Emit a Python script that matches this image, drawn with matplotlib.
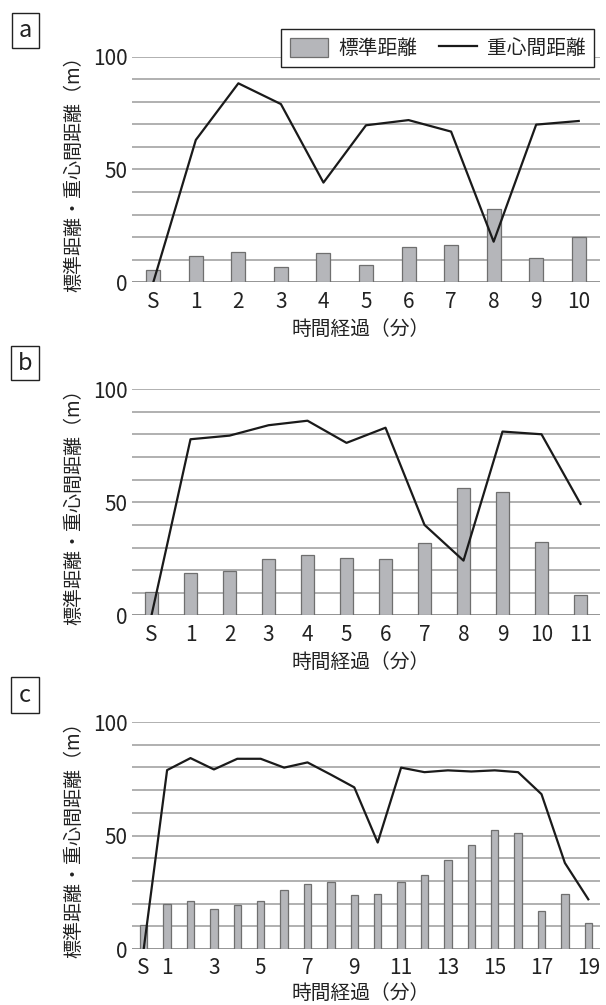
import matplotlib
matplotlib.use("Agg")
import matplotlib.pyplot as plt
from matplotlib.patches import Rectangle
import numpy as np

plt.rcParams['font.family'] = ['Noto Sans CJK JP', 'DejaVu Sans']

# ---- data ----
cats_a = ["S", "1", "2", "3", "4", "5", "6", "7", "8", "9", "10"]
std_a = [5.3, 11.5, 13.3, 6.9, 12.9, 7.7, 15.5, 16.4, 32.5, 10.6, 19.9]
cen_a = [0, 63.1, 88.2, 79.0, 44.2, 69.6, 71.9, 66.8, 18.0, 69.9, 71.5]

cats_b = ["S", "1", "2", "3", "4", "5", "6", "7", "8", "9", "10", "11"]
std_b = [10.2, 18.6, 19.6, 24.8, 26.8, 25.2, 24.8, 31.9, 56.2, 54.4, 32.3, 8.8]
cen_b = [0, 77.9, 79.5, 84.1, 86.1, 76.3, 83.0, 40.0, 24.2, 81.3, 80.1, 49.3]

cats_c = ["S"] + [str(i) for i in range(1, 20)]
std_c = [10.4, 20.0, 21.0, 17.8, 19.6, 21.3, 26.2, 28.5, 29.7, 23.8,
         24.4, 29.3, 32.8, 39.4, 45.6, 52.4, 51.0, 16.8, 24.1, 11.3]
cen_c = [0, 78.8, 84.1, 79.1, 83.8, 83.8, 79.9, 82.2, 76.8, 71.2,
         46.9, 79.9, 77.9, 78.7, 78.2, 78.7, 77.9, 68.2, 37.9, 21.9]
ticklabels_c = ["S", "1", "", "3", "", "5", "", "7", "", "9", "", "11", "",
                "13", "", "15", "", "17", "", "19"]

panel_letters = ["a", "b", "c"]
yticks = [0, 50, 100]
legend_labels = ["標準距離", "重心間距離"]
xlabel = "時間経過（分）"
ylabel = "標準距離・重心間距離（m）"

W, H = 606, 1005
fig = plt.figure(figsize=(W / 100, H / 100), dpi=100)

BAR_FACE = "#b5b6ba"
BAR_EDGE = "#6f6f6f"
GRID = "#a3a3a3"
TXT = "#222222"

ax_left, ax_right = 132, 600
panels = [
    (cats_a, std_a, cen_a, cats_a, 56.7, 282.3, 0.33, (11.7, 12.7, 39.3, 48.3)),
    (cats_b, std_b, cen_b, cats_b, 389.3, 615.3, 0.33, (10.8, 346, 39.4, 380)),
    (cats_c, std_c, cen_c, ticklabels_c, 722, 949, 0.31, (10.8, 677.3, 39.4, 712.7)),
]

axes = []
for i, (cats, std, cen, tl, ytop, ybot, bw, box) in enumerate(panels):
    ax = fig.add_axes([ax_left / W, 1 - ybot / H, (ax_right - ax_left) / W, (ybot - ytop) / H])
    x = np.arange(len(cats))
    ax.set_axisbelow(True)
    for v in range(10, 101, 10):
        ax.axhline(v, color=GRID, lw=1.2, zorder=0)
    ax.axhline(0, color="#8c8c8c", lw=1.3, zorder=0.5)
    bars = ax.bar(x, std, width=bw, color=BAR_FACE, edgecolor=BAR_EDGE, linewidth=0.9, zorder=2,
                  label=legend_labels[0])
    line, = ax.plot(x, cen, color="#1a1a1a", lw=1.6, zorder=3, label=legend_labels[1])
    ax.set_xlim(-0.5, len(cats) - 0.5)
    ax.set_ylim(0, 100)
    ax.set_yticks(yticks)
    ax.set_xticks(x)
    ax.set_xticklabels(tl)
    for s in ax.spines.values():
        s.set_visible(False)
    ax.tick_params(axis="both", length=0, labelsize=15, colors=TXT)
    ax.tick_params(axis="y", pad=3)
    ax.tick_params(axis="x", pad=6)
    ax.text(-0.124, 0.5, ylabel, transform=ax.transAxes, rotation=90,
            ha="center", va="center", fontsize=13.7, color=TXT)
    ylab = -0.21 if i < 2 else -0.195
    ax.text(0.488, ylab, xlabel, transform=ax.transAxes, ha="center", va="center",
            fontsize=14.2, color=TXT)
    x0, y0, x1, y1 = box
    fig.add_artist(Rectangle((x0 / W, 1 - y1 / H), (x1 - x0) / W, (y1 - y0) / H,
                             transform=fig.transFigure, fill=False, edgecolor=TXT, lw=1.0))
    fig.text((x0 + x1) / 2 / W, 1 - (y0 + y1) / 2 / H, panel_letters[i],
             ha="center", va="center", fontsize=17, color=TXT)
    axes.append((ax, bars, line))

ax, bars, line = axes[0]
leg = fig.legend([bars, line], legend_labels, loc="upper right",
                 bbox_to_anchor=(594 / W, 1 - 29.3 / H), bbox_transform=fig.transFigure,
                 ncol=2, fontsize=14.2, frameon=True, fancybox=False, framealpha=1,
                 edgecolor=TXT, borderpad=0.42, handlelength=1.95, handleheight=1.1,
                 handletextpad=0.5, columnspacing=1.1, borderaxespad=0)
leg.get_frame().set_linewidth(1.0)
for t in leg.get_texts():
    t.set_color(TXT)

fig.savefig("out.png", dpi=100, facecolor="white")
